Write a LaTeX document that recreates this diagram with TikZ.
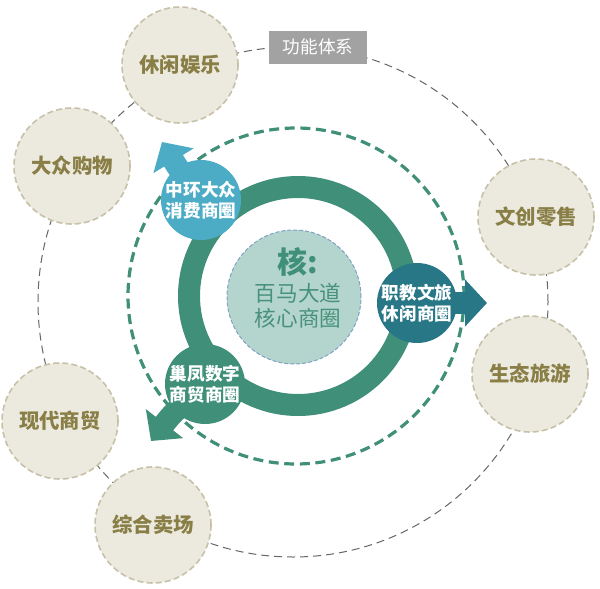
\documentclass[tikz,border=0pt]{standalone}
\usepackage{fontspec}
\setmainfont{Noto Sans CJK SC}
\usetikzlibrary{arrows.meta}
\definecolor{ringgreen}{RGB}{64,144,121}
\definecolor{skyblue}{RGB}{76,172,198}
\definecolor{deepteal}{RGB}{40,119,134}
\definecolor{corefill}{RGB}{180,212,206}
\definecolor{coreedge}{RGB}{128,162,196}
\definecolor{coretext}{RGB}{72,146,122}
\definecolor{sandfill}{RGB}{236,234,222}
\definecolor{sandedge}{RGB}{198,193,168}
\definecolor{olivetext}{RGB}{136,126,70}
\definecolor{tagfill}{RGB}{162,162,162}

\begin{document}
\begin{tikzpicture}[x=0.5pt, y=-0.5pt,
  sandball/.style={circle, fill=sandfill, draw=sandedge, line width=0.8pt,
    dash pattern=on 3pt off 1.6pt, minimum size=58pt, inner sep=0pt,
    text=olivetext, font=\fontsize{10.2}{12}\selectfont\bfseries},
  hubball/.style={circle, minimum size=40pt, inner sep=0pt, text=white,
    align=center, font=\fontsize{8.8}{10.5}\selectfont\bfseries},
  spoke/.style={line width=11pt, -{Triangle[width=23pt, length=11pt]}}]
  \useasboundingbox (0,0) rectangle (600,589);
  % rings
  \coordinate (hub) at (296,296);
  \draw[black!60, line width=0.5pt, dash pattern=on 4pt off 2.5pt] (293,302) circle (127.5pt);
  \draw[ringgreen, line width=1.6pt, dash pattern=on 5pt off 2.8pt] (hub) circle (84pt);
  \draw[ringgreen, line width=11pt] (298,296) circle (54.5pt);
  \node[circle, fill=corefill, draw=coreedge, line width=0.5pt, dash pattern=on 2pt off 1pt,
    minimum size=67pt, inner sep=0pt] (core) at (294,297) {};
  \node[align=center, text=coretext, font=\fontsize{10.8}{12.5}\selectfont] (corelabel) at (298,288)
    {{\fontsize{15}{15}\selectfont\bfseries\color{ringgreen}核:}\\[1.5pt]百马大道\\核心商圈};
  % function circles
  \node[sandball] (leisure) at (180,65) {休闲娱乐};
  \node[sandball] (shop) at (72,166) {大众购物};
  \node[sandball] (culture) at (536,217) {文创零售};
  \node[sandball] (eco) at (530,374) {生态旅游};
  \node[sandball] (trade) at (60,421) {现代商贸};
  \node[sandball] (mall) at (153,525) {综合卖场};
  \node[fill=tagfill, text=white, minimum width=49pt, minimum height=16.5pt, inner sep=0pt,
    font=\fontsize{8.8}{10}\selectfont] (tag) at (318,47) {功能体系};
  % business hubs
  \coordinate (midc) at (201,200);
  \coordinate (midtip) at (162,142);
  \coordinate (vocc) at (417,303);
  \coordinate (voctip) at (487,303);
  \coordinate (nestc) at (205,384);
  \coordinate (nesttip) at (151,441);
  \draw[spoke, skyblue] (midc) .. controls (178,168) .. (midtip);
  \draw[spoke, deepteal] (vocc) -- (voctip);
  \draw[spoke, ringgreen] (nestc) .. controls (172,414) .. (nesttip);
  \node[hubball, fill=skyblue] (midring) at (midc) {中环大众\\消费商圈};
  \node[hubball, fill=deepteal] (vocation) at (vocc) {职教文旅\\休闲商圈};
  \node[hubball, fill=ringgreen] (nest) at (nestc) {巢凤数字\\商贸商圈};
\end{tikzpicture}
\end{document}
